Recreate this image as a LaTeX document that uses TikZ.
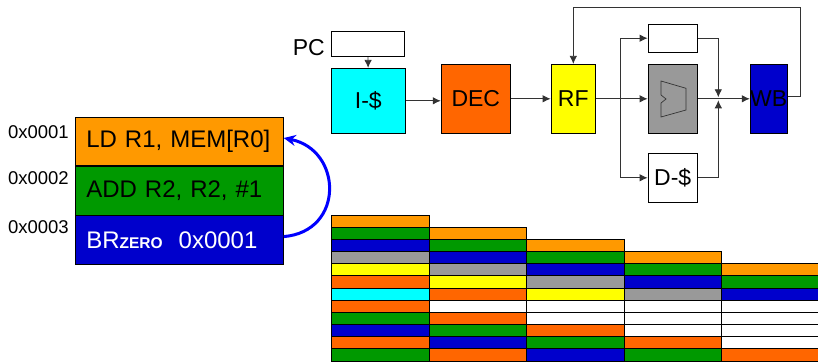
\documentclass[tikz,border=0pt]{standalone}
\usepackage{fontspec}
\setmainfont{Liberation Sans}
\usetikzlibrary{positioning,arrows.meta}
\definecolor{ldorng}{HTML}{FF9900}
\definecolor{addgrn}{HTML}{009900}
\definecolor{brblu}{HTML}{0000CC}
\definecolor{alugry}{HTML}{999999}
\definecolor{rfylw}{HTML}{FFFF00}
\definecolor{decorng}{HTML}{FF6600}
\definecolor{icyan}{HTML}{00FFFF}
\definecolor{jumpblu}{HTML}{0000FF}

\begin{document}
\begin{tikzpicture}[x=1pt, y=-1pt,
    stage/.style={draw, line width=0.8pt, inner sep=0pt, font=\fontsize{23}{23}\selectfont},
    instr/.style={draw, line width=0.8pt, inner xsep=11pt, inner ysep=0pt, text width=186pt,
      minimum height=48.5pt, align=left, font=\fontsize{24}{24}\selectfont},
    addr/.style={inner sep=0pt, font=\fontsize{18.5}{18.5}\selectfont},
    flow/.style={line width=0.8pt, black!80, -{Latex[length=8pt,width=7.5pt]}},
    cell/.style={draw, line width=0.8pt}]
  \useasboundingbox (0,0) rectangle (818,361);

  % program
  \node[instr, fill=ldorng] (ld) at (179.3,141.5) {LD R1, MEM[R0]};
  \node[instr, fill=addgrn, below=0pt of ld] (add) {ADD R2, R2, \#1};
  \node[instr, fill=brblu, text=white, below=0pt of add] (br)
    {BR{\fontsize{15.5}{16}\selectfont\bfseries ZERO}\hspace{16pt}0x0001};
  \node[addr, left=6pt of ld.north west, yshift=-15pt] (a1) {0x0001};
  \node[addr, left=6pt of add.north west, yshift=-12pt] (a2) {0x0002};
  \node[addr, left=6pt of br.north west, yshift=-12pt] (a3) {0x0003};
  \draw[jumpblu, line width=3pt, -{Stealth[length=12pt,width=11pt]}]
    ([yshift=3.5pt]br.east) .. controls +(61,-5) and +(59,12) .. ([yshift=3.5pt]ld.east);

  % pipeline
  \node[stage, minimum width=73pt, minimum height=25pt] (pcreg) at (368,44.2) {};
  \node[stage, draw=none, left=6pt of pcreg, yshift=-3pt] (pc) {PC};
  \node[stage, fill=icyan, minimum width=73.7pt, minimum height=65pt] (icache) at (368.3,100.8) {I-\$};
  \node[stage, fill=decorng, minimum width=69.3pt, minimum height=69pt] (dec) at (475.8,98.8) {DEC};
  \node[stage, fill=rfylw, minimum width=44.6pt, minimum height=69pt] (rf) at (573.3,98.8) {RF};
  \node[stage, minimum width=49.4pt, minimum height=28.3pt] (tmp) at (672.7,38.2) {};
  \node[stage, fill=alugry, minimum width=49.4pt, minimum height=69pt] (alu) at (672.7,98.8) {};
  \node[stage, minimum width=49.4pt, minimum height=49pt] (dcache) at (672.7,177.8) {D-\$};
  \node[stage, fill=brblu, minimum width=36pt, minimum height=69pt] (wb) at (768.7,98.8) {WB};
  \draw[line width=0.7pt, black!80] (661,81) -- (686,88.3) -- (686,110) -- (661,117)
    -- (661,103) -- (666,99) -- (661,95) -- cycle;

  \coordinate (fork) at (620.7,98.8);
  \coordinate (join) at (718.3,98.8);
  \coordinate (loop) at (800,7.3);
  \draw[flow] (pcreg) -- (icache);
  \draw[flow] (icache.east) -- (icache.east -| dec.west);
  \draw[flow] (dec) -- (rf);
  \draw[flow] (rf) -- (alu);
  \draw[line width=0.8pt, black!80] (fork |- tmp) -- (fork |- dcache);
  \draw[flow] (fork |- tmp) -- (tmp);
  \draw[flow] (fork |- dcache) -- (dcache);
  \draw[flow, shorten >=1.5pt] (tmp.east) -| (join);
  \draw[flow, shorten >=1.5pt] (dcache.east) -| (join);
  \draw[flow] (alu) -- (wb);
  \draw[flow] ([yshift=2pt]wb.east) -| (loop) -| (rf.north);

  % pipeline timing
  \foreach \c/\cols in {0/{ldorng,addgrn,brblu,alugry,rfylw,decorng,icyan,decorng,addgrn,brblu,decorng,addgrn},
                        1/{ldorng,addgrn,brblu,alugry,rfylw,decorng,white,decorng,addgrn,brblu,decorng},
                        2/{ldorng,addgrn,brblu,alugry,rfylw,white,white,decorng,addgrn,brblu},
                        3/{ldorng,addgrn,brblu,alugry,white,white,white,decorng,addgrn},
                        4/{ldorng,addgrn,brblu,white,white,white,white,decorng}}
    \foreach \col [count=\r from \c] in \cols
      \draw[cell, fill=\col] ({331.7+97.5*\c},{215+12.17*\r}) rectangle ++(97.5,12.17);
\end{tikzpicture}
\end{document}
